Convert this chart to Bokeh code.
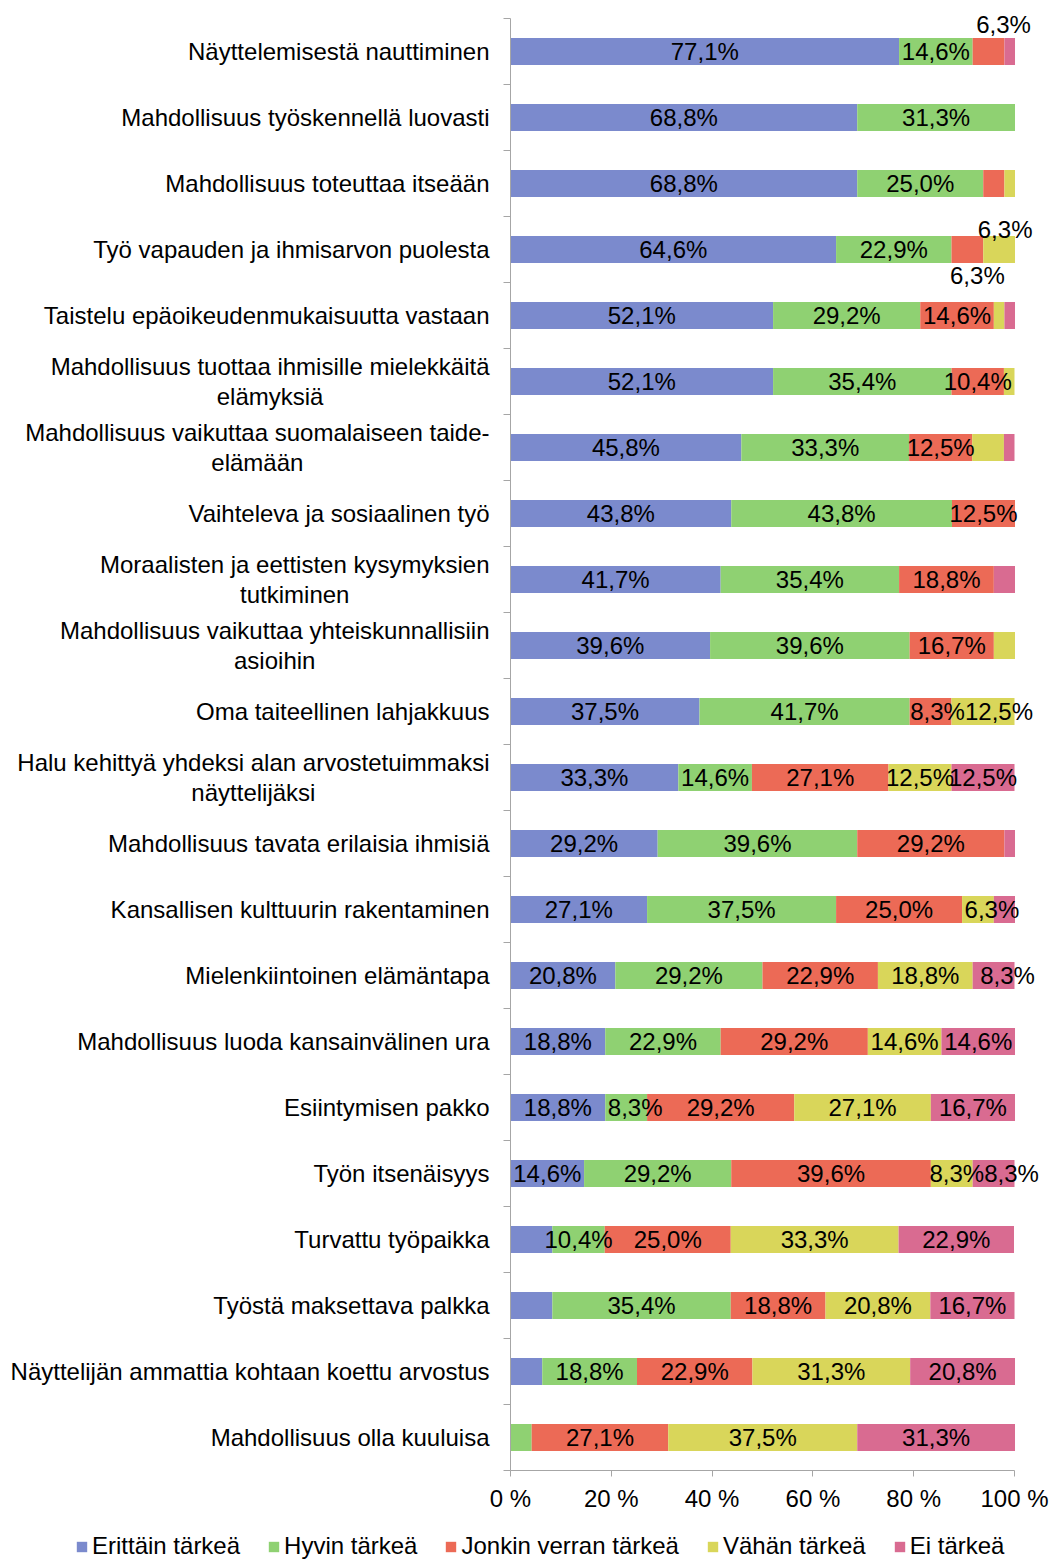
from bokeh.plotting import figure
from bokeh.models import Range1d, FixedTicker, Legend, LegendItem, ColumnDataSource, LinearAxis
from bokeh.layouts import column, row
from bokeh.core.properties import value
from bokeh.embed import file_html
from bokeh.resources import INLINE

categories = [
    "Näyttelemisestä nauttiminen",
    "Mahdollisuus työskennellä luovasti",
    "Mahdollisuus toteuttaa itseään",
    "Työ vapauden ja ihmisarvon puolesta",
    "Taistelu epäoikeudenmukaisuutta vastaan",
    "Mahdollisuus tuottaa ihmisille mielekkäitä\nelämyksiä",
    "Mahdollisuus vaikuttaa suomalaiseen taide-\nelämään",
    "Vaihteleva ja sosiaalinen työ",
    "Moraalisten ja eettisten kysymyksien\ntutkiminen",
    "Mahdollisuus vaikuttaa yhteiskunnallisiin\nasioihin",
    "Oma taiteellinen lahjakkuus",
    "Halu kehittyä yhdeksi alan arvostetuimmaksi\nnäyttelijäksi",
    "Mahdollisuus tavata erilaisia ihmisiä",
    "Kansallisen kulttuurin rakentaminen",
    "Mielenkiintoinen elämäntapa",
    "Mahdollisuus luoda kansainvälinen ura",
    "Esiintymisen pakko",
    "Työn itsenäisyys",
    "Turvattu työpaikka",
    "Työstä maksettava palkka",
    "Näyttelijän ammattia kohtaan koettu arvostus",
    "Mahdollisuus olla kuuluisa",
]
series = ["Erittäin tärkeä", "Hyvin tärkeä", "Jonkin verran tärkeä", "Vähän tärkeä", "Ei tärkeä"]

erittain = [77.1, 68.8, 68.8, 64.6, 52.1, 52.1, 45.8, 43.8, 41.7, 39.6, 37.5, 33.3, 29.2, 27.1, 20.8, 18.8, 18.8, 14.6, 8.3, 8.3, 6.3, 0.0]
hyvin = [14.6, 31.3, 25.0, 22.9, 29.2, 35.4, 33.3, 43.8, 35.4, 39.6, 41.7, 14.6, 39.6, 37.5, 29.2, 22.9, 8.3, 29.2, 10.4, 35.4, 18.8, 4.2]
jonkin = [6.3, 0.0, 4.2, 6.3, 14.6, 10.4, 12.5, 12.5, 18.8, 16.7, 8.3, 27.1, 29.2, 25.0, 22.9, 29.2, 29.2, 39.6, 25.0, 18.8, 22.9, 27.1]
vahan = [0.0, 0.0, 2.1, 6.3, 2.1, 2.1, 6.3, 0.0, 0.0, 4.2, 12.5, 12.5, 0.0, 6.3, 18.8, 14.6, 27.1, 8.3, 33.3, 20.8, 31.3, 37.5]
ei = [2.1, 0.0, 0.0, 0.0, 2.1, 0.0, 2.1, 0.0, 4.2, 0.0, 0.0, 12.5, 2.1, 4.2, 8.3, 14.6, 16.7, 8.3, 22.9, 16.7, 20.8, 31.3]

x_ticks = [0, 20, 40, 60, 80, 100]
x_tick_labels = ["0 %", "20 %", "40 %", "60 %", "80 %", "100 %"]

colors = ["#7b8acd", "#8fd172", "#ec6a56", "#d9d65a", "#d96b91"]

# label display tweaks (style only)
hidden_labels = {(18, 0), (19, 0)}
extra_labels = {(0, 2), (3, 2), (3, 3), (13, 3)}
label_offsets = {(0, 2): (15, -27), (3, 3): (6, -20), (3, 2): (10, 26), (13, 3): (14, 0),
                 (10, 2): (7, 0), (10, 3): (16, 0), (14, 4): (14, 0), (16, 1): (9, 0),
                 (17, 3): (5, 0), (17, 4): (18, 0)}

FONT = "Liberation Sans"
n = len(categories)
ypos = [n - i - 0.5 for i in range(n)]
values = [erittain, hyvin, jonkin, vahan, ei]
keys = ["s0", "s1", "s2", "s3", "s4"]

src = ColumnDataSource(dict(y=ypos, **{k: v for k, v in zip(keys, values)}))

p = figure(width=1051, height=1520, output_backend="svg", toolbar_location=None,
           x_range=Range1d(0, 541 / 5.04), y_range=Range1d(0, n + 18 / 66),
           min_border_left=510, min_border_right=0, min_border_top=0, min_border_bottom=50,
           x_axis_location=None, y_axis_location=None)
p.outline_line_color = None
p.xgrid.visible = False
p.ygrid.visible = False

rs = p.hbar_stack(keys, y="y", height=0.41, color=colors, line_color=None, source=src)

# data labels
lx, ly, lt, lox, loy = [], [], [], [], []
for i in range(n):
    cum = 0.0
    for s in range(5):
        v = values[s][i]
        show = (v >= 8 and (i, s) not in hidden_labels) or (i, s) in extra_labels
        if show:
            lx.append(cum + v / 2)
            ly.append(ypos[i])
            lt.append(f"{v:.1f}".replace(".", ",") + "%")
            dx, dy = label_offsets.get((i, s), (0, 0))
            lox.append(dx)
            loy.append(dy)
        cum += v
lsrc = ColumnDataSource(dict(x=lx, y=ly, text=lt, xo=lox, yo=loy))
p.text(x="x", y="y", text="text", x_offset="xo", y_offset="yo", source=lsrc,
       text_font=value(FONT), text_font_size="24px", text_color="black",
       text_align="center", text_baseline="middle", level="overlay")

# category labels
csrc = ColumnDataSource(dict(x=[0] * n, y=ypos, text=categories))
p.text(x="x", y="y", text="text", source=csrc, x_offset=-21,
       anchor="center_right", text_align="center", text_baseline="middle",
       text_font=value(FONT), text_font_size="24px", text_color="black",
       text_line_height=1.12, level="overlay")

yax = LinearAxis(ticker=FixedTicker(ticks=[], minor_ticks=list(range(n + 1))), bounds=(0, n))
yax.axis_line_color = "#a6a6a6"
yax.minor_tick_line_color = "#a6a6a6"
yax.minor_tick_out = 7
yax.minor_tick_in = 0
yax.major_tick_line_color = None
yax.major_label_text_font_size = "0px"
p.add_layout(yax, "left")

xax = LinearAxis(ticker=FixedTicker(ticks=x_ticks, minor_ticks=[]), bounds=(0, 100))
xax.major_label_overrides = {t: l for t, l in zip(x_ticks, x_tick_labels)}
xax.axis_line_color = "#a6a6a6"
xax.major_tick_line_color = "#a6a6a6"
xax.major_tick_out = 6
xax.major_tick_in = 0
xax.minor_tick_line_color = None
xax.major_label_standoff = 8
xax.major_label_text_font = FONT
xax.major_label_text_font_size = "24px"
xax.major_label_text_color = "black"
p.add_layout(xax, "below")

# legend strip below the chart (its swatch renderers sit outside the visible range)
lf = figure(width=1051, height=40, output_backend="svg", toolbar_location=None,
            x_range=Range1d(0, 1), y_range=Range1d(0, 1),
            min_border_left=0, min_border_right=0, min_border_top=0, min_border_bottom=0,
            x_axis_location=None, y_axis_location=None)
lf.outline_line_color = None
lf.xgrid.visible = False
lf.ygrid.visible = False
lrs = [lf.hbar(y=[-5], left=[0], right=[1], height=1, color=c, line_color=None) for c in colors]
legend = Legend(items=[LegendItem(label=s, renderers=[r]) for s, r in zip(series, lrs)],
                location=(75, 0), orientation="horizontal",
                glyph_width=13, glyph_height=13, label_standoff=4, spacing=27,
                padding=0, margin=0, border_line_color=None, background_fill_alpha=0,
                label_text_font=FONT, label_text_font_size="24px", label_height=24,
                label_text_color="black")
lf.add_layout(legend)

layout = column(row(p), row(lf), spacing=0)
open("out.html", "w").write(file_html(layout, INLINE))
